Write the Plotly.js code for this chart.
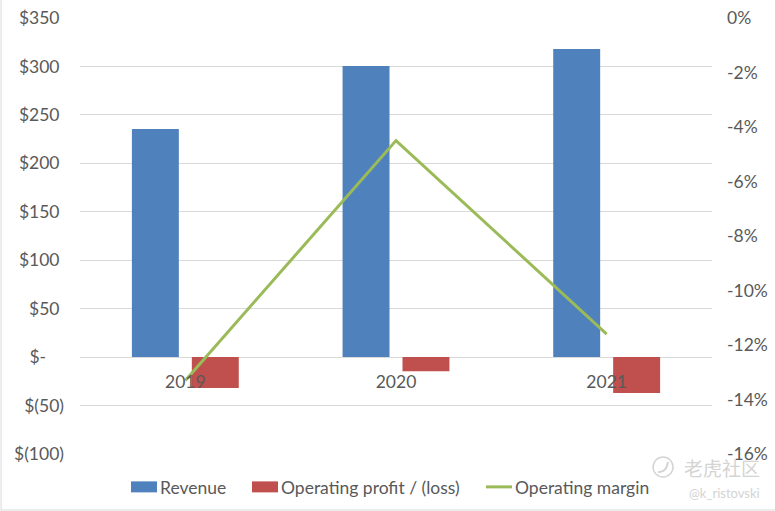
<!DOCTYPE html>
<html><head><meta charset="utf-8">
<script src="https://cdn.plot.ly/plotly-3.0.1.min.js"></script>
<style>html,body{margin:0;padding:0;background:#fff}</style></head>
<body><div id="c" style="width:775px;height:511px"></div>
<script>
const years=['2019','2020','2021'];
const revenue=[235.5,300.5,318];
const opProfit=[-32,-14.5,-37];
const opMargin=[-13.3,-4.5,-11.6];
const leftTicks=[350,300,250,200,150,100,50,0,-50,-100];
const leftLabels=['$350\u00a0','$300\u00a0','$250\u00a0','$200\u00a0','$150\u00a0','$100\u00a0','$50\u00a0','$-\u00a0\u00a0\u00a0\u00a0','$(50)','$(100)'];
const rightTicks=[0,-2,-4,-6,-8,-10,-12,-14,-16];
const rightLabels=['0%','-2%','-4%','-6%','-8%','-10%','-12%','-14%','-16%'];
const f={family:'Lato,"Open Sans",sans-serif',size:17.5,color:'#595959'};
const L=79.5,W=632.5,H=436;
const px=x=>(x-L)/W, py=y=>(454-y)/H;
const wm='#d4d4d4';
Plotly.newPlot('c',[
{type:'bar',name:'Revenue',x:years,y:revenue,marker:{color:'#4f81bd'}},
{type:'bar',name:'Operating profit / (loss)',x:years,y:opProfit,marker:{color:'#c0504d'}},
{type:'scatter',mode:'lines',name:'Operating margin',x:years,y:opMargin,yaxis:'y2',line:{color:'#9bbb59',width:3}}
],{
width:775,height:511,margin:{l:L,r:63,t:18,b:57,pad:0},showlegend:true,
paper_bgcolor:'#fff',plot_bgcolor:'#fff',font:f,
barmode:'group',bargap:0.431,bargroupgap:0.2167,
xaxis:{type:'category',anchor:'free',position:py(357),tickfont:f,showgrid:false,zeroline:false,showline:false,ticks:'',ticklabelstandoff:12},
yaxis:{range:[-100,350],tickvals:leftTicks,ticktext:leftLabels,gridcolor:'#d9d9d9',gridwidth:1,zeroline:true,zerolinecolor:'#d9d9d9',zerolinewidth:1,tickfont:f,ticks:'',ticklabelstandoff:15,automargin:false},
yaxis2:{range:[-16,0],overlaying:'y',side:'right',tickvals:rightTicks,ticktext:rightLabels,showgrid:false,zeroline:false,tickfont:f,ticks:'',ticklabelstandoff:14,automargin:false},
legend:{orientation:'h',xref:'container',yref:'container',x:120/775,xanchor:'left',y:1-469/511,yanchor:'top',font:f,bgcolor:'rgba(0,0,0,0)'},
shapes:[
{type:'line',xref:'paper',yref:'paper',x0:px(0.5),x1:px(0.5),y0:py(510),y1:py(0),line:{color:'#d9d9d9',width:1}},
{type:'line',xref:'paper',yref:'paper',x0:px(0),x1:px(775),y0:py(510),y1:py(510),line:{color:'#d9d9d9',width:1}},
{type:'circle',xref:'paper',yref:'paper',x0:px(653),x1:px(673),y0:py(477),y1:py(457),line:{color:wm,width:1.5}},
{type:'path',xref:'paper',yref:'paper',path:`M${px(658)},${py(472)} Q${px(666)},${py(473)} ${px(668)},${py(462)}`,line:{color:wm,width:2}}
],
annotations:[
{xref:'paper',yref:'paper',x:px(762),y:py(467),xanchor:'right',yanchor:'middle',text:'老虎社区',showarrow:false,font:{family:'"Noto Sans CJK SC"',size:19,color:wm}},
{xref:'paper',yref:'paper',x:px(762),y:py(493),xanchor:'right',yanchor:'middle',text:'@k_ristovski',showarrow:false,font:{family:'Lato,sans-serif',size:13,color:wm}}
]
},{displayModeBar:false}).then(gd=>{
  // Excel-style legend: wide rectangular swatches and roomier spacing
  gd.querySelectorAll('.legend .traces path').forEach(p=>{
    const d=p.getAttribute('d')||'';
    if(d.indexOf('M6,6')===0) p.setAttribute('d','M-9,5.5H17V-5.5H-9Z');
    else if(d.indexOf('M5,0')===0) p.setAttribute('d','M11,0H37');
  });
  gd.querySelectorAll('.legend .scrollbox').forEach(s=>s.removeAttribute('clip-path'));
  const items=[...gd.querySelectorAll('.legend .traces')];
  const wanted=[160,281,515];
  items.forEach((g,i)=>{
    const t=g.querySelector('text.legendtext');
    const dx=wanted[i]-t.getBoundingClientRect().left;
    const m=/translate\(([-\d.]+)[ ,]*([-\d.]*)/.exec(g.getAttribute('transform'));
    g.setAttribute('transform','translate('+(parseFloat(m[1])+dx)+','+(m[2]||0)+')');
  });
});
</script></body></html>
